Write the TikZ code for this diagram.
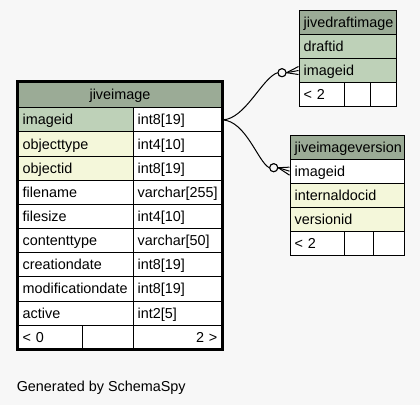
\documentclass[tikz,border=0pt]{standalone}
\usepackage{fontspec}
\setmainfont{Liberation Sans}
\definecolor{bgc}{HTML}{F7F7F7}
\definecolor{hdr}{HTML}{9BAB96}
\definecolor{pk}{HTML}{BED1B8}
\definecolor{idx}{HTML}{F4F7DA}
\begin{document}
\begin{tikzpicture}[x=0.75pt,y=-0.75pt,
  cell/.style={draw=black,line width=0.75pt,anchor=north west,inner xsep=3.5pt,inner ysep=0pt,
    text height=8.5pt,text depth=1pt,font=\fontsize{10.8}{12}\selectfont,fill=white,align=left},
  hcell/.style={cell,fill=hdr,align=center},
  rowA/.style={minimum height=18.11pt},
  rowB/.style={minimum height=18pt},
  rowC/.style={minimum height=18.075pt},
  conn/.style={draw=black,line width=0.75pt},
  odot/.style={circle,draw=black,line width=0.75pt,fill=bgc,minimum size=6pt,inner sep=0pt}]
\useasboundingbox (0,0) rectangle (420,405);
\fill[bgc] (0,0) rectangle (420,405);

% connector end circles
\node[odot] (o1) at (282,72.7) {};
\node[odot] (o2) at (273.7,167.7) {};

% jiveimage
\node[hcell,minimum height=19.35pt,text width=146pt] (jih) at (17.5,81.5) {jiveimage};
\node[cell,rowA,fill=pk,text width=79.25pt] (ji1a) at (17.5,107.3) {imageid};
\node[cell,rowA,text width=59.75pt] (ji1b) at (132.5,107.3) {int8[19]};
\node[cell,rowA,fill=idx,text width=79.25pt] (ji2a) at (17.5,131.45) {objecttype};
\node[cell,rowA,text width=59.75pt] (ji2b) at (132.5,131.45) {int4[10]};
\node[cell,rowA,fill=idx,text width=79.25pt] (ji3a) at (17.5,155.6) {objectid};
\node[cell,rowA,text width=59.75pt] (ji3b) at (132.5,155.6) {int8[19]};
\node[cell,rowA,text width=79.25pt] (ji4a) at (17.5,179.75) {filename};
\node[cell,rowA,text width=59.75pt] (ji4b) at (132.5,179.75) {varchar[255]};
\node[cell,rowA,text width=79.25pt] (ji5a) at (17.5,203.9) {filesize};
\node[cell,rowA,text width=59.75pt] (ji5b) at (132.5,203.9) {int4[10]};
\node[cell,rowA,text width=79.25pt] (ji6a) at (17.5,228.05) {contenttype};
\node[cell,rowA,text width=59.75pt] (ji6b) at (132.5,228.05) {varchar[50]};
\node[cell,rowA,text width=79.25pt] (ji7a) at (17.5,252.2) {creationdate};
\node[cell,rowA,text width=59.75pt] (ji7b) at (132.5,252.2) {int8[19]};
\node[cell,rowA,text width=79.25pt] (ji8a) at (17.5,276.35) {modificationdate};
\node[cell,rowA,text width=59.75pt] (ji8b) at (132.5,276.35) {int8[19]};
\node[cell,rowA,text width=79.25pt] (ji9a) at (17.5,300.5) {active};
\node[cell,rowA,text width=59.75pt] (ji9b) at (132.5,300.5) {int2[5]};
\node[cell,rowA,text width=41.4pt] (jif1) at (17.5,324.65) {< 0};
\node[cell,rowA,text width=30.9pt] (jif2) at (82,324.65) {};
\node[cell,rowA,text width=59.75pt,align=right] (jif3) at (132.5,324.65) {2 >};
\draw[line width=2.25pt] (jih.north west) rectangle (jif3.south east);

% jivedraftimage
\node[hcell,rowB,text width=66.1pt] (drh) at (298.5,10) {jivedraftimage};
\node[cell,rowB,fill=pk,text width=66.1pt] (dr1) at (298.5,34) {draftid};
\node[cell,rowB,fill=pk,text width=66.1pt] (dr2) at (298.5,58) {imageid};
\node[cell,rowB,text width=26.75pt] (drf1) at (298.5,82) {< 2};
\node[cell,rowB,text width=12.5pt] (drf2) at (343.5,82) {};
\node[cell,rowB,text width=12.9pt] (drf3) at (369.5,82) {};

% jiveimageversion
\node[hcell,rowC,text width=78.9pt] (ivh) at (289.5,134.5) {jiveimageversion};
\node[cell,rowC,text width=78.9pt] (iv1) at (289.5,158.6) {imageid};
\node[cell,rowC,fill=idx,text width=78.9pt] (iv2) at (289.5,182.7) {internaldocid};
\node[cell,rowC,fill=idx,text width=78.9pt] (iv3) at (289.5,206.8) {versionid};
\node[cell,rowC,text width=33.9pt] (ivf1) at (289.5,230.9) {< 2};
\node[cell,rowC,text width=14.75pt] (ivf2) at (344,230.9) {};
\node[cell,rowC,text width=16.25pt] (ivf3) at (373,230.9) {};

% curves
\draw[conn] (ji1b.east) .. controls (245,119.4) and (262,78) .. (o1.west);
\draw[conn] (ji1b.east) .. controls (246,121) and (258,162) .. (o2.west);
\node[odot] at (o1) {};
\node[odot] at (o2) {};
\draw[conn] (o1.east) -- ([yshift=3pt]dr2.west);
\draw[conn] (o1.east) -- (dr2.west);
\draw[conn] (o1.east) -- ([yshift=-3pt]dr2.west);
\draw[conn] (o2.east) -- ([yshift=3pt]iv1.west);
\draw[conn] (o2.east) -- (iv1.west);
\draw[conn] (o2.east) -- ([yshift=-3pt]iv1.west);

\node[anchor=base west,inner sep=0pt,font=\fontsize{10.8}{12}\selectfont] (gen) at (16.5,391.5) {Generated by SchemaSpy};
\end{tikzpicture}
\end{document}
